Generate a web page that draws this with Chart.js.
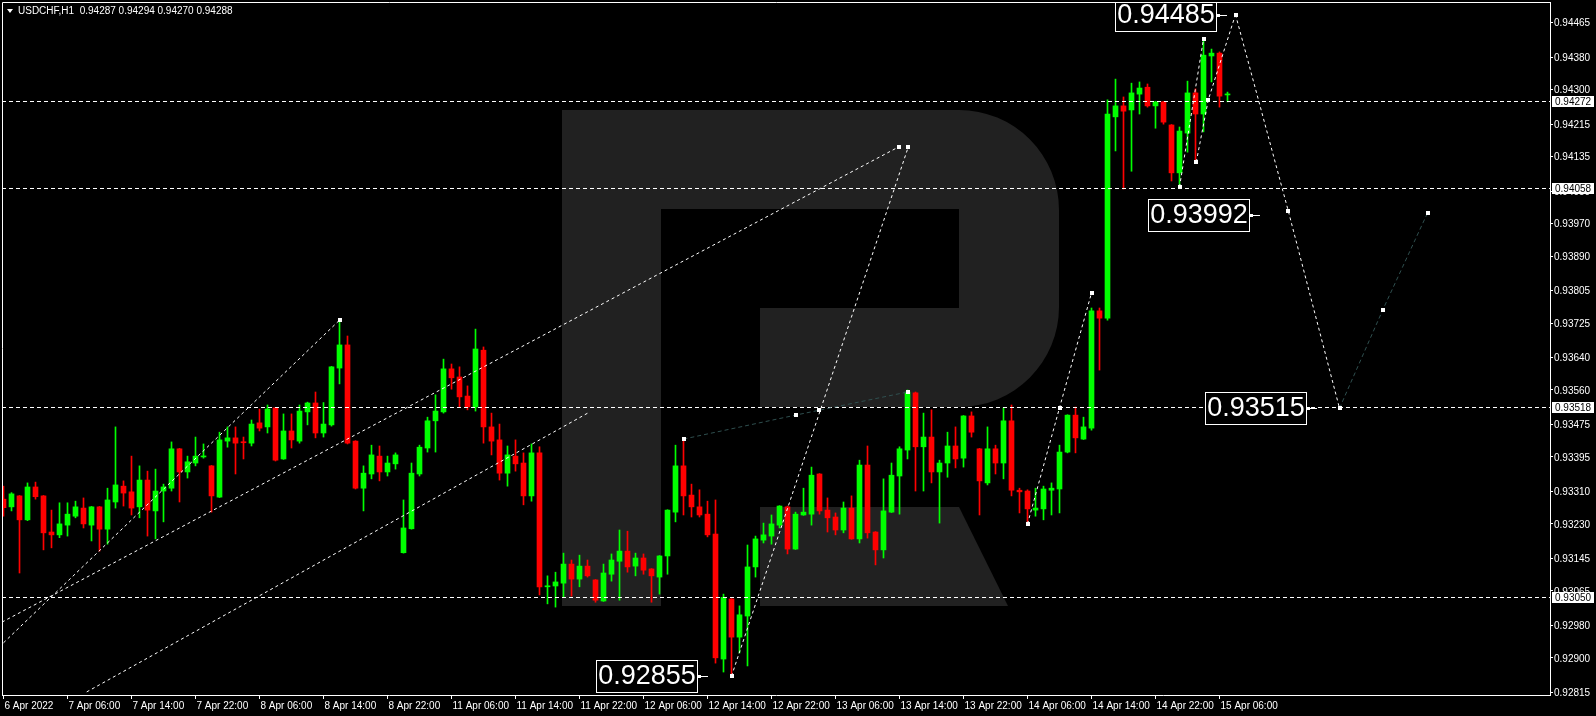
<!DOCTYPE html>
<html>
<head>
<meta charset="utf-8">
<title>USDCHF H1</title>
<script src="https://cdn.jsdelivr.net/npm/chart.js@4.4.1/dist/chart.umd.min.js"></script>
<style>
  html, body { margin: 0; padding: 0; background: #000; overflow: hidden; }
  #wrap { width: 1596px; height: 716px; }
</style>
</head>
<body>
<div id="wrap"><canvas id="chart" width="1596" height="716"></canvas></div>
<script>
// USDCHF H1, 6 Apr 22:00 .. 15 Apr 07:00 (one bar per hour, weekend skipped)
const symbolName = 'USDCHF,H1';

const opens = [
  0.93291,0.93272,0.93299,0.93240,0.93321,0.93299,0.93210,0.93203,0.93227,0.93249,
  0.93269,0.93227,0.93272,0.93217,0.93284,0.93323,0.93309,0.93272,0.93338,0.93262,
  0.93311,0.93318,0.93415,0.93358,0.93380,0.93395,0.93373,0.93296,0.93434,0.93442,
  0.93432,0.93429,0.93479,0.93469,0.93516,0.93390,0.93459,0.93434,0.93506,0.93528,
  0.93454,0.93474,0.93614,0.93671,0.93434,0.93318,0.93353,0.93397,0.93358,0.93378,
  0.93159,0.93218,0.93353,0.93417,0.93484,0.93506,0.93612,0.93592,0.93545,0.93518,
  0.93658,0.93469,0.93437,0.93355,0.93397,0.93380,0.93299,0.93405,0.93075,0.93077,
  0.93084,0.93131,0.93094,0.93126,0.93092,0.93040,0.93106,0.93138,0.93163,0.93126,
  0.93146,0.93119,0.93099,0.93151,0.93259,0.93373,0.93301,0.93272,0.93254,0.93205,
  0.92897,0.93045,0.92951,0.93003,0.93124,0.93190,0.93200,0.93227,0.93272,0.93168,
  0.93252,0.93254,0.93353,0.93264,0.93247,0.93215,0.93269,0.93193,0.93375,0.93210,
  0.93166,0.93259,0.93348,0.93412,0.93553,0.93420,0.93444,0.93358,0.93380,0.93422,
  0.93392,0.93496,0.93415,0.93331,0.93415,0.93380,0.93484,0.93313,0.93311,0.93264,
  0.93267,0.93313,0.93316,0.93407,0.93498,0.93439,0.93466,0.93755,0.93737,0.94233,
  0.94260,0.94250,0.94289,0.94306,0.94260,0.94270,0.94213,0.94095,0.94193,0.94292,
  0.94240,0.94383,0.94390,0.94287
];
const highs = [
  0.93323,0.93307,0.93300,0.93331,0.93333,0.93300,0.93264,0.93282,0.93282,0.93286,
  0.93294,0.93273,0.93273,0.93318,0.93469,0.93336,0.93397,0.93373,0.93360,0.93365,
  0.93328,0.93432,0.93416,0.93397,0.93444,0.93427,0.93374,0.93456,0.93469,0.93469,
  0.93444,0.93486,0.93513,0.93523,0.93517,0.93501,0.93501,0.93523,0.93530,0.93555,
  0.93529,0.93618,0.93732,0.93693,0.93435,0.93373,0.93424,0.93422,0.93397,0.93405,
  0.93289,0.93380,0.93424,0.93493,0.93548,0.93636,0.93624,0.93617,0.93570,0.93710,
  0.93666,0.93503,0.93476,0.93422,0.93437,0.93405,0.93427,0.93420,0.93102,0.93111,
  0.93158,0.93141,0.93153,0.93141,0.93093,0.93131,0.93156,0.93215,0.93212,0.93158,
  0.93156,0.93120,0.93152,0.93265,0.93424,0.93439,0.93328,0.93314,0.93286,0.93289,
  0.93057,0.93046,0.93028,0.93178,0.93200,0.93232,0.93252,0.93275,0.93274,0.93259,
  0.93318,0.93370,0.93354,0.93294,0.93257,0.93284,0.93299,0.93387,0.93422,0.93211,
  0.93341,0.93380,0.93420,0.93560,0.93555,0.93503,0.93511,0.93387,0.93456,0.93469,
  0.93497,0.93506,0.93416,0.93469,0.93424,0.93516,0.93523,0.93318,0.93314,0.93318,
  0.93323,0.93331,0.93424,0.93499,0.93518,0.93493,0.93762,0.93762,0.94275,0.94326,
  0.94282,0.94316,0.94319,0.94314,0.94271,0.94271,0.94214,0.94208,0.94321,0.94302,
  0.94425,0.94400,0.94393,0.94294
];
const lows = [
  0.93249,0.93262,0.93109,0.93238,0.93291,0.93166,0.93171,0.93196,0.93200,0.93245,
  0.93220,0.93188,0.93163,0.93180,0.93269,0.93274,0.93252,0.93245,0.93200,0.93193,
  0.93235,0.93311,0.93284,0.93343,0.93373,0.93392,0.93259,0.93295,0.93419,0.93353,
  0.93390,0.93422,0.93459,0.93454,0.93385,0.93389,0.93417,0.93429,0.93474,0.93442,
  0.93444,0.93471,0.93575,0.93427,0.93316,0.93262,0.93341,0.93336,0.93348,0.93365,
  0.93158,0.93217,0.93348,0.93407,0.93407,0.93503,0.93562,0.93518,0.93511,0.93508,
  0.93429,0.93400,0.93338,0.93323,0.93360,0.93277,0.93286,0.93055,0.93033,0.93025,
  0.93050,0.93052,0.93075,0.93099,0.93037,0.93039,0.93089,0.93042,0.93111,0.93102,
  0.93106,0.93037,0.93057,0.93106,0.93235,0.93252,0.93247,0.93247,0.93198,0.92887,
  0.92865,0.92855,0.92912,0.92880,0.93099,0.93183,0.93180,0.93220,0.93156,0.93167,
  0.93251,0.93227,0.93254,0.93210,0.93203,0.93208,0.93192,0.93183,0.93195,0.93129,
  0.93146,0.93258,0.93254,0.93390,0.93311,0.93311,0.93331,0.93232,0.93345,0.93368,
  0.93370,0.93444,0.93252,0.93326,0.93353,0.93341,0.93299,0.93257,0.93230,0.93249,
  0.93240,0.93252,0.93257,0.93405,0.93405,0.93438,0.93461,0.93609,0.93732,0.94149,
  0.94055,0.94099,0.94240,0.94257,0.94205,0.94215,0.94075,0.94063,0.94146,0.94122,
  0.94196,0.94319,0.94257,0.94270
];
const closes = [
  0.93270,0.93304,0.93240,0.93321,0.93297,0.93208,0.93203,0.93230,0.93254,0.93272,
  0.93230,0.93272,0.93217,0.93289,0.93326,0.93306,0.93269,0.93338,0.93264,0.93311,
  0.93321,0.93415,0.93358,0.93383,0.93397,0.93397,0.93299,0.93437,0.93442,0.93429,
  0.93430,0.93476,0.93466,0.93513,0.93387,0.93459,0.93437,0.93508,0.93528,0.93454,
  0.93476,0.93617,0.93671,0.93429,0.93318,0.93355,0.93400,0.93358,0.93380,0.93400,
  0.93220,0.93355,0.93419,0.93484,0.93508,0.93612,0.93590,0.93543,0.93518,0.93661,
  0.93469,0.93434,0.93355,0.93400,0.93378,0.93299,0.93405,0.93075,0.93077,0.93087,
  0.93131,0.93094,0.93126,0.93102,0.93042,0.93109,0.93141,0.93163,0.93124,0.93146,
  0.93116,0.93102,0.93151,0.93264,0.93373,0.93299,0.93272,0.93252,0.93203,0.92900,
  0.93049,0.92951,0.93006,0.93124,0.93193,0.93203,0.93230,0.93274,0.93168,0.93254,
  0.93259,0.93350,0.93262,0.93245,0.93215,0.93269,0.93193,0.93375,0.93208,0.93166,
  0.93262,0.93350,0.93415,0.93555,0.93420,0.93444,0.93358,0.93380,0.93422,0.93390,
  0.93496,0.93456,0.93336,0.93415,0.93380,0.93484,0.93313,0.93309,0.93267,0.93269,
  0.93316,0.93318,0.93407,0.93498,0.93442,0.93469,0.93755,0.93737,0.94240,0.94260,
  0.94247,0.94292,0.94304,0.94260,0.94270,0.94220,0.94095,0.94198,0.94292,0.94240,
  0.94385,0.94390,0.94284,0.94288
];

// time axis: one label every 8 bars
const timeTicks = [0,8,16,24,32,40,48,56,64,72,80,88,96,104,112,120,128,136,144,152];
const timeLabels = ['6 Apr 2022','7 Apr 06:00','7 Apr 14:00','7 Apr 22:00','8 Apr 06:00',
  '8 Apr 14:00','8 Apr 22:00','11 Apr 06:00','11 Apr 14:00','11 Apr 22:00','12 Apr 06:00',
  '12 Apr 14:00','12 Apr 22:00','13 Apr 06:00','13 Apr 14:00','13 Apr 22:00','14 Apr 06:00',
  '14 Apr 14:00','14 Apr 22:00','15 Apr 06:00'];

const priceTicks = [0.94465,0.94380,0.94300,0.94215,0.94135,0.94050,0.93970,0.93890,0.93805,
  0.93725,0.93640,0.93560,0.93475,0.93395,0.93310,0.93230,0.93145,0.93065,0.92980,0.92900,0.92815];

// horizontal levels
const levels = [0.94272, 0.94058, 0.93518, 0.93050];

// trend lines / forecast paths, points as [bar index, price]
const whiteLines = [
  [[0, 0.92937], [42, 0.93732]],
  [[-0.19, 0.92988], [111.9, 0.94159]],
  [[10.4, 0.92816], [73.3, 0.93506]],
  [[91, 0.92855], [113.1, 0.94159]],
  [[128, 0.93230], [132, 0.93516], [136, 0.93799]],
  [[147, 0.94060], [150, 0.94425]],
  [[149.1, 0.94122], [150.6, 0.94275], [154, 0.94485]],
  [[154, 0.94485], [160.6, 0.94001], [167, 0.93515]]
];
const slateLines = [
  [[85, 0.93439], [99, 0.93498], [113, 0.93555]],
  [[167, 0.93515], [172.4, 0.93757], [178, 0.93996]]
];
const markers = [
  [42, 0.93732], [111.9, 0.94159], [113.1, 0.94159], [91, 0.92855], [101.9, 0.93511],
  [85, 0.93439], [99, 0.93498], [113, 0.93555],
  [128, 0.93230], [132, 0.93516], [136, 0.93799],
  [147, 0.94060], [149.1, 0.94122], [150, 0.94425], [150.6, 0.94275], [154, 0.94485],
  [160.6, 0.94001], [167, 0.93515], [172.4, 0.93757], [178, 0.93996]
];
const bigLabels = [
  { text: '0.94485', at: 152.9, price: 0.94485 },
  { text: '0.93992', at: 157.1, price: 0.93992 },
  { text: '0.93515', at: 164.2, price: 0.93515 },
  { text: '0.92855', at: 88.1,  price: 0.92855 }
];

const UP = '#00ff00', DOWN = '#ff0000';
const FONT = '"Liberation Sans", Arial, sans-serif';
const idx = opens.map((_, i) => i);
const colors = idx.map(i => closes[i] >= opens[i] ? UP : DOWN);

function drawPath(ctx, xs, ys, pts) {
  ctx.beginPath();
  pts.forEach((p, k) => {
    const x = xs.getPixelForValue(p[0]), y = ys.getPixelForValue(p[1]);
    if (k === 0) ctx.moveTo(x, y); else ctx.lineTo(x, y);
  });
  ctx.stroke();
}

// keep the plot area at a fixed size: no extra room for edge labels
function noPad(s) {
  s.paddingTop = 0; s.paddingBottom = 0; s.paddingLeft = 0; s.paddingRight = 0;
}

const mt4 = {
  id: 'mt4',
  beforeDraw(chart) {
    const { ctx, chartArea: a } = chart;
    ctx.save();
    ctx.fillStyle = '#000';
    ctx.fillRect(0, 0, chart.width, chart.height);
    // watermark "R"
    ctx.beginPath();
    ctx.rect(a.left, a.top, a.right - a.left, a.bottom - a.top);
    ctx.clip();
    ctx.fillStyle = '#212121';
    ctx.fillRect(562, 110, 99, 496);
    ctx.beginPath();
    ctx.moveTo(661, 110);
    ctx.lineTo(959, 110);
    ctx.arc(959, 210, 100, -Math.PI / 2, 0);
    ctx.lineTo(1059, 307);
    ctx.arc(959, 307, 100, 0, Math.PI / 2);
    ctx.lineTo(760, 407);
    ctx.lineTo(760, 308);
    ctx.lineTo(959, 308);
    ctx.lineTo(959, 209);
    ctx.lineTo(661, 209);
    ctx.closePath();
    ctx.fill();
    ctx.beginPath();
    ctx.moveTo(760, 507);
    ctx.lineTo(959, 507);
    ctx.lineTo(1008, 606);
    ctx.lineTo(760, 606);
    ctx.closePath();
    ctx.fill();
    ctx.restore();
  },
  afterDatasetsDraw(chart) {
    const { ctx, chartArea: a } = chart;
    const xs = chart.scales.x, ys = chart.scales.y;
    ctx.save();
    ctx.beginPath();
    ctx.rect(a.left, a.top, a.right - a.left, a.bottom - a.top);
    ctx.clip();
    ctx.lineWidth = 1;
    // levels
    ctx.strokeStyle = '#ffffff';
    ctx.setLineDash([4, 3]);
    levels.forEach(v => {
      const y = Math.round(ys.getPixelForValue(v)) + 0.5;
      ctx.beginPath(); ctx.moveTo(a.left, y); ctx.lineTo(a.right, y); ctx.stroke();
    });
    // trend lines
    ctx.setLineDash([3, 3]);
    whiteLines.forEach(l => drawPath(ctx, xs, ys, l));
    ctx.strokeStyle = '#2f4f4f';
    ctx.setLineDash([4, 3]);
    slateLines.forEach(l => drawPath(ctx, xs, ys, l));
    ctx.setLineDash([]);
    ctx.fillStyle = '#ffffff';
    markers.forEach(m => {
      const x = Math.round(xs.getPixelForValue(m[0])), y = Math.round(ys.getPixelForValue(m[1]));
      ctx.fillRect(x - 2, y - 2, 4, 4);
    });
    // boxed price labels
    bigLabels.forEach(l => {
      const px = Math.round(xs.getPixelForValue(l.at));
      const py = Math.round(ys.getPixelForValue(l.price));
      const right = px - 11, left = right - 101;
      ctx.fillStyle = '#000';
      ctx.fillRect(left, py - 16, 101, 32);
      ctx.strokeStyle = '#fff';
      ctx.strokeRect(left + 0.5, py - 15.5, 101, 32);
      ctx.beginPath(); ctx.moveTo(right, py + 0.5); ctx.lineTo(px, py + 0.5); ctx.stroke();
      ctx.fillStyle = '#fff';
      ctx.fillRect(right + 1, py - 1, 3, 3);
      ctx.font = '27px ' + FONT;
      ctx.textAlign = 'center';
      ctx.textBaseline = 'middle';
      ctx.fillText(l.text, left + 51, py + 1);
    });
    ctx.restore();
  },
  afterDraw(chart) {
    const { ctx, chartArea: a } = chart;
    const ys = chart.scales.y;
    ctx.save();
    ctx.strokeStyle = '#fff';
    ctx.lineWidth = 1;
    ctx.beginPath();
    ctx.moveTo(a.left + 0.5, a.bottom);
    ctx.lineTo(a.left + 0.5, a.top + 0.5);
    ctx.lineTo(a.right, a.top + 0.5);
    ctx.stroke();
    // price tags on the axis
    ctx.font = '10px ' + FONT;
    ctx.textAlign = 'left';
    ctx.textBaseline = 'middle';
    levels.forEach(v => {
      const y = Math.round(ys.getPixelForValue(v));
      ctx.fillStyle = '#fff';
      ctx.fillRect(a.right + 2, y - 5, 42, 11);
      ctx.fillStyle = '#000';
      ctx.fillText(v.toFixed(5), a.right + 5, y + 1);
    });
    // header
    const n = opens.length - 1;
    ctx.fillStyle = '#fff';
    ctx.beginPath();
    ctx.moveTo(7, 9); ctx.lineTo(13, 9); ctx.lineTo(10, 13); ctx.closePath(); ctx.fill();
    ctx.fillText(symbolName + '  ' + [opens[n], highs[n], lows[n], closes[n]].map(v => v.toFixed(5)).join(' '), 18, 11);
    ctx.restore();
  }
};

new Chart(document.getElementById('chart'), {
  type: 'bar',
  data: {
    datasets: [
      {
        label: 'wick',
        data: idx.map(i => ({ x: i, y: [lows[i], highs[i]] })),
        backgroundColor: colors,
        barThickness: 1,
        grouped: false,
        order: 2
      },
      {
        label: 'body',
        data: idx.map(i => ({ x: i, y: [opens[i], closes[i]] })),
        backgroundColor: colors,
        barThickness: 5,
        minBarLength: 1,
        grouped: false,
        order: 1
      }
    ]
  },
  options: {
    responsive: false,
    animation: false,
    devicePixelRatio: 1,
    layout: { padding: { left: 2, top: 2, right: 0, bottom: 0 } },
    plugins: { legend: { display: false }, tooltip: { enabled: false } },
    scales: {
      x: {
        type: 'linear',
        min: -0.1875,
        max: 193.3125,
        offset: false,
        afterBuildTicks: s => { s.ticks = timeTicks.map(v => ({ value: v })); },
        afterFit: s => { s.height = 21; noPad(s); },
        grid: { drawOnChartArea: false, drawTicks: true, tickLength: 4, color: '#fff', offset: false },
        border: { display: true, color: '#fff', width: 1 },
        ticks: {
          color: '#fff', font: { family: FONT, size: 10 }, align: 'start', labelOffset: 1,
          maxRotation: 0, autoSkip: false, padding: 1,
          callback: (v, i) => timeLabels[i]
        }
      },
      y: {
        position: 'right',
        min: 0.928084,
        max: 0.94516,
        beginAtZero: false,
        afterBuildTicks: s => { s.ticks = priceTicks.map(v => ({ value: v })); },
        afterFit: s => { s.width = 46; noPad(s); },
        grid: { drawOnChartArea: false, drawTicks: true, tickLength: 3, color: '#fff' },
        border: { display: true, color: '#fff', width: 1 },
        ticks: {
          color: '#fff', font: { family: FONT, size: 10 }, padding: 1, autoSkip: false,
          labelOffset: 1,
          callback: v => v.toFixed(5)
        }
      }
    }
  },
  plugins: [mt4]
});
</script>
</body>
</html>
